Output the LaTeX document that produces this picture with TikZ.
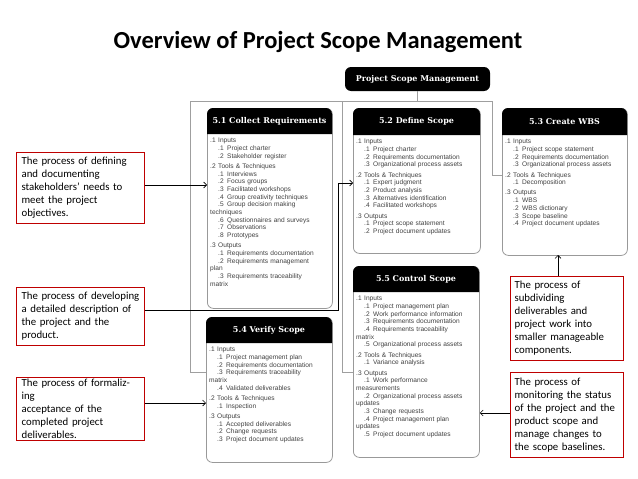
\documentclass[tikz,border=0pt]{standalone}
\usepackage{fontspec}
\setmainfont{Carlito}
\newfontfamily\hdfont{DejaVu Serif}
\newfontfamily\bodyfont{Liberation Sans}
\usetikzlibrary{arrows.meta}
\newcommand\HH[2]{\makebox[8pt][l]{#1}#2\par}
\newcommand\SB[2]{\hangindent=17pt\hspace*{8pt}\makebox[9pt][l]{#1}#2\par}
\newcommand\GP{\vspace{2.5pt}}
\tikzset{
  frame/.style={draw=gray!75,line width=1pt},
  pbox/.style={draw=gray!80,line width=0.8pt,rounded corners=6pt},
  hdr/.style={fill=black,rounded corners=6pt},
  hdtext/.style={text=white,font=\hdfont\bfseries\fontsize{8}{9}\selectfont},
  body/.style={anchor=north west,align=left,inner sep=0pt,text=black!75,font=\bodyfont\fontsize{6.6}{7.7}\selectfont},
  desc/.style={draw=red!75!black,line width=1.2pt,inner sep=0pt,font=\fontsize{10.8}{13}\selectfont},
  conn/.style={draw=black,line width=0.6pt},
  arr/.style={conn,-{Straight Barb[length=3pt,width=6pt]}}
}
\newcommand\proc[8]{% name x1 y1 x2 y2 yh title body
  \node[pbox,minimum width=#4pt-#2pt,minimum height=#5pt-#3pt,anchor=north west] (#1) at (#2,#3) {};
  \fill[hdr] (#2,#6) -- (#2,#3) -- (#4,#3) -- (#4,#6);
  \node[hdtext] (#1t) at ({(#2+#4)/2},{(#3+#6)/2}) {#7};
  \node[body,text width=#4pt-#2pt-6pt] (#1b) at (#2+3,#6+4) {#8};
}
\begin{document}
\begin{tikzpicture}[x=1pt,y=-1pt]
\useasboundingbox (0,0) rectangle (638,479);
\node[font=\bfseries\fontsize{24.5}{28}\selectfont] (title) at (318,42) {Overview of Project Scope Management};
\node[fill=black,rounded corners=6pt,minimum width=145pt,minimum height=24pt,inner sep=0pt,hdtext] (psm) at (417.5,79) {Project Scope Management};
% frame
\coordinate (top) at (417.5,101);
\coordinate (fl) at (190,101);
\coordinate (fm) at (342,101);
\coordinate (fr) at (492,101);
\draw[frame] (psm.south) -- (top);
\draw[frame] (fl) -- (fr);
\proc{cr}{207}{108}{332}{308}{134}{5.1 Collect Requirements}{%
\HH{.1}{Inputs}\SB{.1}{Project charter}\SB{.2}{Stakeholder register}\GP
\HH{.2}{Tools \& Techniques}\SB{.1}{Interviews}\SB{.2}{Focus groups}\SB{.3}{Facilitated workshops}\SB{.4}{Group creativity techniques}\SB{.5}{Group decision making\\techniques}\SB{.6}{Questionnaires and surveys}\SB{.7}{Observations}\SB{.8}{Prototypes}\GP
\HH{.3}{Outputs}\SB{.1}{Requirements documentation}\SB{.2}{Requirements management\\plan}\SB{.3}{Requirements traceability\\matrix}}
\proc{ds}{353}{108}{480}{253}{135}{5.2 Define Scope}{%
\HH{.1}{Inputs}\SB{.1}{Project charter}\SB{.2}{Requirements documentation}\SB{.3}{Organizational process assets}\GP
\HH{.2}{Tools \& Techniques}\SB{.1}{Expert judgment}\SB{.2}{Product analysis}\SB{.3}{Alternatives identification}\SB{.4}{Facilitated workshops}\GP
\HH{.3}{Outputs}\SB{.1}{Project scope statement}\SB{.2}{Project document updates}}
\proc{wbs}{502}{108}{627}{255}{135}{5.3 Create WBS}{%
\HH{.1}{Inputs}\SB{.1}{Project scope statement}\SB{.2}{Requirements documentation}\SB{.3}{Organizational process assets}\GP
\HH{.2}{Tools \& Techniques}\SB{.1}{Decomposition}\GP
\HH{.3}{Outputs}\SB{.1}{WBS}\SB{.2}{WBS dictionary}\SB{.3}{Scope baseline}\SB{.4}{Project document updates}}
\proc{vs}{206}{317}{332}{462}{343}{5.4 Verify Scope}{%
\HH{.1}{Inputs}\SB{.1}{Project management plan}\SB{.2}{Requirements documentation}\SB{.3}{Requirements traceability\\matrix}\SB{.4}{Validated deliverables}\GP
\HH{.2}{Tools \& Techniques}\SB{.1}{Inspection}\GP
\HH{.3}{Outputs}\SB{.1}{Accepted deliverables}\SB{.2}{Change requests}\SB{.3}{Project document updates}}
\proc{cs}{353}{266}{479}{457}{292}{5.5 Control Scope}{%
\HH{.1}{Inputs}\SB{.1}{Project management plan}\SB{.2}{Work performance information}\SB{.3}{Requirements documentation}\SB{.4}{Requirements traceability\\matrix}\SB{.5}{Organizational process assets}\GP
\HH{.2}{Tools \& Techniques}\SB{.1}{Variance analysis}\GP
\HH{.3}{Outputs}\SB{.1}{Work performance\\measurements}\SB{.2}{Organizational process assets\\updates}\SB{.3}{Change requests}\SB{.4}{Project management plan\\updates}\SB{.5}{Project document updates}}
\draw[frame] (fl) |- (vs.west |- 0,372);
\draw[frame] (fm) |- (cs.west |- 0,372);
\draw[frame] (fr) |- (wbs.west |- 0,175);
% description boxes
\node[desc,anchor=north west,minimum width=128pt,minimum height=71pt,text width=118pt,align=left] (d1) at (16,152) {The process of defining\\and documenting\\stakeholders’ needs to\\meet the project\\objectives.};
\node[desc,anchor=north west,minimum width=128pt,minimum height=58pt,text width=118pt,align=left] (d2) at (16,287) {The process of developing\\a detailed description of\\the project and the\\product.};
\node[desc,anchor=north west,minimum width=128pt,minimum height=63pt,text width=118pt,align=left] (d3) at (16,377) {The process of formalizing\\acceptance of the\\completed project\\deliverables.};
\node[desc,anchor=north west,minimum width=113pt,minimum height=84pt,text width=105pt,align=left] (d4) at (510,276) {The process of\\subdividing\\deliverables and\\project work into\\smaller manageable\\components.};
\node[desc,anchor=north west,minimum width=113pt,minimum height=85pt,text width=105pt,align=left] (d5) at (510,372) {The process of\\monitoring the status\\of the project and the\\product scope and\\manage changes to\\the scope baselines.};
\coordinate (k2) at (338,310);
\draw[arr] (d1.east |- 0,185) -- (cr.west |- 0,185);
\draw[arr] (d2.east |- k2) -- (k2) |- (ds.west |- 0,183);
\draw[arr] (d3.east |- 0,403) -- (vs.west |- 0,403);
\draw[arr] (d4.north -| 0,0) ++(558,0) -- (558,255);
\draw[arr] (d5.west |- 0,413) -- (cs.east |- 0,413);
\end{tikzpicture}
\end{document}
